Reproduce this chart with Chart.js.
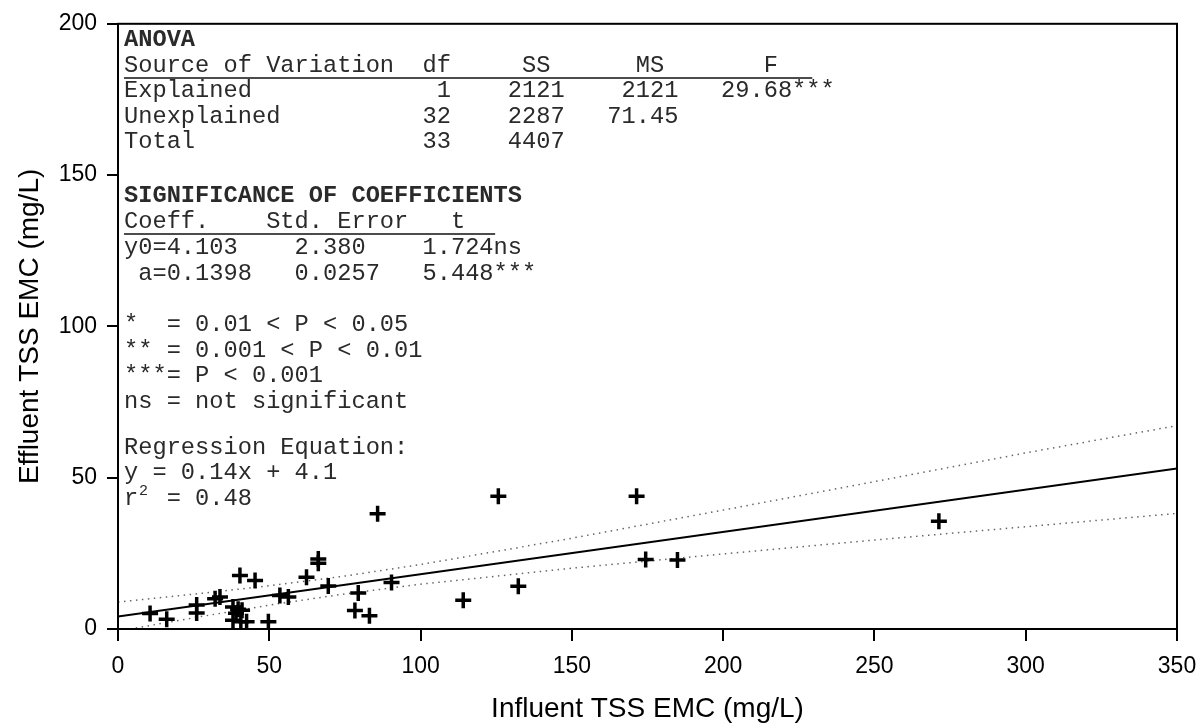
<!DOCTYPE html>
<html>
<head>
<meta charset="utf-8">
<script src="https://cdn.jsdelivr.net/npm/chart.js@4"></script>
<style>
  html, body { margin: 0; padding: 0; background: #fff; }
  #wrap { width: 1201px; height: 726px; }
</style>
</head>
<body>
<div id="wrap"><canvas id="tssChart" width="1201" height="726"></canvas></div>
<script>
// Influent vs effluent TSS event mean concentrations (mg/L)
const influent = [10.6, 16.1, 26.0, 26.0, 32.1, 33.7, 38.0, 39.7, 39.0, 41.0, 38.0, 40.6, 42.5,
    40.3, 45.3, 49.7, 53.5, 56.3, 62.3, 66.2, 66.2, 69.5, 79.4, 78.3, 83.1, 85.8, 90.4,
    114.1, 125.7, 132.3, 171.4, 174.4, 184.9, 271.3];
const effluent = [5.1, 3.2, 7.9, 5.3, 10.0, 10.6, 7.3, 6.5, 5.2, 6.2, 2.9, 2.4, 2.4,
    17.7, 16.0, 2.4, 11.1, 10.6, 17.1, 23.1, 21.7, 14.2, 11.9, 6.1, 4.4, 38.1, 15.4,
    9.5, 43.9, 14.1, 43.9, 23.0, 22.8, 35.6];

// regression coefficients (from the table)
const y0 = 4.103;
const slope = 0.1398;
const lineX = [0, 350];

// 95% confidence band
const bandX = [0, 25, 50, 75, 100, 150, 200, 250, 300, 350];
const bandUpper = [8.9, 11.5, 14.3, 17.5, 21.3, 30.0, 39.3, 48.7, 58.2, 67.2];
const bandLower = [-0.7, 3.7, 7.9, 11.6, 14.8, 20.1, 24.8, 29.4, 33.8, 38.2];

const xTicks = [0, 50, 100, 150, 200, 250, 300, 350];
const yTicks = [0, 50, 100, 150, 200];

// text box lines: [text, y, bold]
const noteLines = [
    ["ANOVA", 40, true],
    ["Source of Variation  df     SS      MS       F", 65.5, false],
    ["Explained             1    2121    2121   29.68***", 91, false],
    ["Unexplained          32    2287   71.45", 116.5, false],
    ["Total                33    4407", 142, false],
    ["SIGNIFICANCE OF COEFFICIENTS", 196, true],
    ["Coeff.    Std. Error   t", 222, false],
    ["y0=4.103    2.380    1.724ns", 248, false],
    [" a=0.1398   0.0257   5.448***", 273.5, false],
    ["*  = 0.01 < P < 0.05", 325, false],
    ["** = 0.001 < P < 0.01", 350.5, false],
    ["***= P < 0.001", 376, false],
    ["ns = not significant", 401.5, false],
    ["Regression Equation:", 448, false],
    ["y = 0.14x + 4.1", 473, false],
    ["r  = 0.48", 499, false]
];
// underlines under the two table headers: [startCol, endCol, y]
const underlines = [[0, 48.4, 78], [0, 26.1, 234]];

document.addEventListener("DOMContentLoaded", () => {
    const canvas = document.getElementById("tssChart");

    const toPoints = (xs, ys) => xs.map((x, i) => ({ x: x, y: ys[i] }));

    // frame around the plot plus the statistics text
    const frameAndNotes = {
        id: "frameAndNotes",
        afterDraw(chart) {
            const { ctx, chartArea: a } = chart;
            ctx.save();
            ctx.strokeStyle = "#000";
            ctx.lineWidth = 2;
            ctx.strokeRect(a.left, a.top, a.right - a.left, a.bottom - a.top);

            const fontSize = 23.7;
            const charW = fontSize * 0.6;
            const startX = a.left + 6;
            const mono = "px 'Liberation Mono', 'Courier New', monospace";
            ctx.fillStyle = "#2a2a2a";
            ctx.textBaseline = "middle";
            ctx.textAlign = "left";
            noteLines.forEach(([text, y, bold]) => {
                ctx.font = (bold ? "bold " : "") + fontSize + mono;
                ctx.fillText(text, startX, y);
            });
            // superscript 2 of r squared
            ctx.font = "15" + mono;
            ctx.fillText("2", startX + charW * 1.05, 491);

            ctx.lineWidth = 1.5;
            ctx.strokeStyle = "#111";
            underlines.forEach(([c0, c1, y]) => {
                ctx.beginPath();
                ctx.moveTo(startX + c0 * charW, y);
                ctx.lineTo(startX + c1 * charW, y);
                ctx.stroke();
            });
            ctx.restore();
        }
    };

    new Chart(canvas, {
        type: "scatter",
        data: {
            datasets: [
                {
                    label: "Observed",
                    data: toPoints(influent, effluent),
                    pointStyle: "cross",
                    pointRadius: 8,
                    pointHoverRadius: 8,
                    borderColor: "#000",
                    borderWidth: 3.5,
                    order: 0
                },
                {
                    label: "Regression",
                    data: lineX.map(x => ({ x: x, y: y0 + slope * x })),
                    showLine: true,
                    pointRadius: 0,
                    borderColor: "#000",
                    borderWidth: 2,
                    order: 1
                },
                {
                    label: "95% CI upper",
                    data: toPoints(bandX, bandUpper),
                    showLine: true,
                    pointRadius: 0,
                    borderColor: "#666",
                    borderWidth: 1.5,
                    borderDash: [1.5, 4.5],
                    order: 2
                },
                {
                    label: "95% CI lower",
                    data: toPoints(bandX, bandLower),
                    showLine: true,
                    pointRadius: 0,
                    borderColor: "#666",
                    borderWidth: 1.5,
                    borderDash: [1.5, 4.5],
                    order: 2
                }
            ]
        },
        options: {
            responsive: false,
            animation: false,
            events: [],
            layout: { padding: { left: 0, right: 24, top: 18, bottom: 0 } },
            plugins: {
                legend: { display: false },
                tooltip: { enabled: false }
            },
            scales: {
                x: {
                    type: "linear",
                    min: 0,
                    max: 350,
                    afterBuildTicks: (scale) => { scale.ticks = xTicks.map(v => ({ value: v })); },
                    afterFit: (scale) => {
                        scale.height = 97;
                        // keep the last label from pushing the plot edge in
                        scale.paddingLeft = 0;
                        scale.paddingRight = 0;
                    },
                    grid: { drawOnChartArea: false, drawTicks: true, tickLength: 12, color: "#000", lineWidth: 2 },
                    border: { display: true, color: "#000", width: 2 },
                    ticks: { color: "#000", padding: 12, font: { family: "'Liberation Sans', Arial", size: 23 } },
                    title: {
                        display: true,
                        text: "Influent TSS EMC (mg/L)",
                        color: "#000",
                        padding: { top: 0, bottom: 0 },
                        font: { family: "'Liberation Sans', Arial", size: 28 }
                    }
                },
                y: {
                    type: "linear",
                    min: 0,
                    max: 200,
                    afterBuildTicks: (scale) => { scale.ticks = yTicks.map(v => ({ value: v })); },
                    afterFit: (scale) => { scale.width = 118; },
                    grid: { drawOnChartArea: false, drawTicks: true, tickLength: 11, color: "#000", lineWidth: 2 },
                    border: { display: true, color: "#000", width: 2 },
                    ticks: { color: "#000", padding: 10, font: { family: "'Liberation Sans', Arial", size: 23 } },
                    title: {
                        display: true,
                        text: "Effluent TSS EMC (mg/L)",
                        color: "#000",
                        padding: { top: 13, bottom: 0 },
                        font: { family: "'Liberation Sans', Arial", size: 28 }
                    }
                }
            }
        },
        plugins: [frameAndNotes]
    });
});
</script>
</body>
</html>
